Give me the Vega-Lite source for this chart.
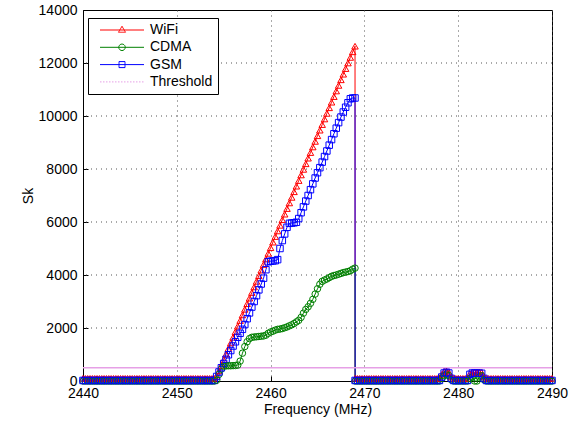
{
"$schema": "https://vega.github.io/schema/vega-lite/v6.json",
"width": 469, "height": 371,
"autosize": {"type": "none"},
"padding": {"left": 83, "top": 10, "right": 28, "bottom": 40},
"background": "white",
"data": {"values": [
{"f":2440,"WiFi":100,"CDMA":0,"GSM":20},{"f":2440.25,"WiFi":100,"CDMA":0,"GSM":20},{"f":2440.5,"WiFi":100,"CDMA":0,"GSM":20},{"f":2440.75,"WiFi":100,"CDMA":0,"GSM":20},
{"f":2441,"WiFi":100,"CDMA":0,"GSM":20},{"f":2441.25,"WiFi":100,"CDMA":0,"GSM":20},{"f":2441.5,"WiFi":100,"CDMA":0,"GSM":20},{"f":2441.75,"WiFi":100,"CDMA":0,"GSM":20},
{"f":2442,"WiFi":100,"CDMA":0,"GSM":20},{"f":2442.25,"WiFi":100,"CDMA":0,"GSM":20},{"f":2442.5,"WiFi":100,"CDMA":0,"GSM":20},{"f":2442.75,"WiFi":100,"CDMA":0,"GSM":20},
{"f":2443,"WiFi":100,"CDMA":0,"GSM":20},{"f":2443.25,"WiFi":100,"CDMA":0,"GSM":20},{"f":2443.5,"WiFi":100,"CDMA":0,"GSM":20},{"f":2443.75,"WiFi":100,"CDMA":0,"GSM":20},
{"f":2444,"WiFi":100,"CDMA":0,"GSM":20},{"f":2444.25,"WiFi":100,"CDMA":0,"GSM":20},{"f":2444.5,"WiFi":100,"CDMA":0,"GSM":20},{"f":2444.75,"WiFi":100,"CDMA":0,"GSM":20},
{"f":2445,"WiFi":100,"CDMA":0,"GSM":20},{"f":2445.25,"WiFi":100,"CDMA":0,"GSM":20},{"f":2445.5,"WiFi":100,"CDMA":0,"GSM":20},{"f":2445.75,"WiFi":100,"CDMA":0,"GSM":20},
{"f":2446,"WiFi":100,"CDMA":0,"GSM":20},{"f":2446.25,"WiFi":100,"CDMA":0,"GSM":20},{"f":2446.5,"WiFi":100,"CDMA":0,"GSM":20},{"f":2446.75,"WiFi":100,"CDMA":0,"GSM":20},
{"f":2447,"WiFi":100,"CDMA":0,"GSM":20},{"f":2447.25,"WiFi":100,"CDMA":0,"GSM":20},{"f":2447.5,"WiFi":100,"CDMA":0,"GSM":20},{"f":2447.75,"WiFi":100,"CDMA":0,"GSM":20},
{"f":2448,"WiFi":100,"CDMA":0,"GSM":20},{"f":2448.25,"WiFi":100,"CDMA":0,"GSM":20},{"f":2448.5,"WiFi":100,"CDMA":0,"GSM":20},{"f":2448.75,"WiFi":100,"CDMA":0,"GSM":20},
{"f":2449,"WiFi":100,"CDMA":0,"GSM":20},{"f":2449.25,"WiFi":100,"CDMA":0,"GSM":20},{"f":2449.5,"WiFi":100,"CDMA":0,"GSM":20},{"f":2449.75,"WiFi":100,"CDMA":0,"GSM":20},
{"f":2450,"WiFi":100,"CDMA":0,"GSM":20},{"f":2450.25,"WiFi":100,"CDMA":0,"GSM":20},{"f":2450.5,"WiFi":100,"CDMA":0,"GSM":20},{"f":2450.75,"WiFi":100,"CDMA":0,"GSM":20},
{"f":2451,"WiFi":100,"CDMA":0,"GSM":20},{"f":2451.25,"WiFi":100,"CDMA":0,"GSM":20},{"f":2451.5,"WiFi":100,"CDMA":0,"GSM":20},{"f":2451.75,"WiFi":100,"CDMA":0,"GSM":20},
{"f":2452,"WiFi":100,"CDMA":0,"GSM":20},{"f":2452.25,"WiFi":100,"CDMA":0,"GSM":20},{"f":2452.5,"WiFi":100,"CDMA":0,"GSM":20},{"f":2452.75,"WiFi":100,"CDMA":0,"GSM":20},
{"f":2453,"WiFi":100,"CDMA":0,"GSM":20},{"f":2453.25,"WiFi":100,"CDMA":0,"GSM":20},{"f":2453.5,"WiFi":100,"CDMA":0,"GSM":20},{"f":2453.75,"WiFi":100,"CDMA":0,"GSM":20},
{"f":2454,"WiFi":100,"CDMA":0,"GSM":20},
{"f":2454.25,"WiFi":169,"CDMA":30,"GSM":170},
{"f":2454.5,"WiFi":380,"CDMA":250,"GSM":340},
{"f":2454.75,"WiFi":591,"CDMA":450,"GSM":500},
{"f":2455,"WiFi":803,"CDMA":560,"GSM":660},
{"f":2455.25,"WiFi":1014,"CDMA":570,"GSM":820},
{"f":2455.5,"WiFi":1225,"CDMA":575,"GSM":990},
{"f":2455.75,"WiFi":1436,"CDMA":575,"GSM":1150},
{"f":2456,"WiFi":1648,"CDMA":580,"GSM":1320},
{"f":2456.25,"WiFi":1859,"CDMA":585,"GSM":1480},
{"f":2456.5,"WiFi":2070,"CDMA":600,"GSM":1650},
{"f":2456.75,"WiFi":2281,"CDMA":750,"GSM":1800},
{"f":2457,"WiFi":2493,"CDMA":1050,"GSM":1950},
{"f":2457.25,"WiFi":2704,"CDMA":1300,"GSM":2130},
{"f":2457.5,"WiFi":2915,"CDMA":1480,"GSM":2350},
{"f":2457.75,"WiFi":3126,"CDMA":1600,"GSM":2570},
{"f":2458,"WiFi":3338,"CDMA":1650,"GSM":2790},
{"f":2458.25,"WiFi":3549,"CDMA":1660,"GSM":3000},
{"f":2458.5,"WiFi":3760,"CDMA":1670,"GSM":3220},
{"f":2458.75,"WiFi":3971,"CDMA":1680,"GSM":3440},
{"f":2459,"WiFi":4183,"CDMA":1690,"GSM":3660},
{"f":2459.25,"WiFi":4394,"CDMA":1700,"GSM":3880},
{"f":2459.5,"WiFi":4605,"CDMA":1730,"GSM":4200},
{"f":2459.75,"WiFi":4816,"CDMA":1800,"GSM":4500},
{"f":2460,"WiFi":5028,"CDMA":1850,"GSM":4520},
{"f":2460.25,"WiFi":5239,"CDMA":1880,"GSM":4530},
{"f":2460.5,"WiFi":5450,"CDMA":1920,"GSM":4540},
{"f":2460.75,"WiFi":5661,"CDMA":1950,"GSM":4580},
{"f":2461,"WiFi":5873,"CDMA":1960,"GSM":5000},
{"f":2461.25,"WiFi":6084,"CDMA":1980,"GSM":5300},
{"f":2461.5,"WiFi":6295,"CDMA":2010,"GSM":5550},
{"f":2461.75,"WiFi":6506,"CDMA":2040,"GSM":5800},
{"f":2462,"WiFi":6718,"CDMA":2080,"GSM":5950},
{"f":2462.25,"WiFi":6929,"CDMA":2120,"GSM":5960},
{"f":2462.5,"WiFi":7140,"CDMA":2170,"GSM":5970},
{"f":2462.75,"WiFi":7351,"CDMA":2230,"GSM":5990},
{"f":2463,"WiFi":7563,"CDMA":2290,"GSM":6130},
{"f":2463.25,"WiFi":7774,"CDMA":2400,"GSM":6350},
{"f":2463.5,"WiFi":7985,"CDMA":2560,"GSM":6570},
{"f":2463.75,"WiFi":8196,"CDMA":2700,"GSM":6790},
{"f":2464,"WiFi":8408,"CDMA":2800,"GSM":7000},
{"f":2464.25,"WiFi":8619,"CDMA":2930,"GSM":7220},
{"f":2464.5,"WiFi":8830,"CDMA":3080,"GSM":7440},
{"f":2464.75,"WiFi":9041,"CDMA":3280,"GSM":7660},
{"f":2465,"WiFi":9253,"CDMA":3480,"GSM":7860},
{"f":2465.25,"WiFi":9464,"CDMA":3650,"GSM":8050},
{"f":2465.5,"WiFi":9675,"CDMA":3760,"GSM":8260},
{"f":2465.75,"WiFi":9886,"CDMA":3810,"GSM":8470},
{"f":2466,"WiFi":10098,"CDMA":3850,"GSM":8680},
{"f":2466.25,"WiFi":10309,"CDMA":3900,"GSM":8900},
{"f":2466.5,"WiFi":10520,"CDMA":3950,"GSM":9110},
{"f":2466.75,"WiFi":10731,"CDMA":3980,"GSM":9330},
{"f":2467,"WiFi":10943,"CDMA":4000,"GSM":9540},
{"f":2467.25,"WiFi":11154,"CDMA":4030,"GSM":9750},
{"f":2467.5,"WiFi":11365,"CDMA":4060,"GSM":9960},
{"f":2467.75,"WiFi":11576,"CDMA":4090,"GSM":10150},
{"f":2468,"WiFi":11788,"CDMA":4110,"GSM":10330},
{"f":2468.25,"WiFi":11999,"CDMA":4130,"GSM":10500},
{"f":2468.5,"WiFi":12210,"CDMA":4160,"GSM":10650},
{"f":2468.75,"WiFi":12421,"CDMA":4220,"GSM":10680},
{"f":2469,"WiFi":12633,"CDMA":4260,"GSM":10680},
{"f":2469.01,"WiFi":100,"CDMA":0,"GSM":20},
{"f":2469.25,"WiFi":100,"CDMA":0,"GSM":20},{"f":2469.5,"WiFi":100,"CDMA":0,"GSM":20},{"f":2469.75,"WiFi":100,"CDMA":0,"GSM":20},
{"f":2470,"WiFi":100,"CDMA":0,"GSM":20},{"f":2470.25,"WiFi":100,"CDMA":0,"GSM":20},{"f":2470.5,"WiFi":100,"CDMA":0,"GSM":20},{"f":2470.75,"WiFi":100,"CDMA":0,"GSM":20},
{"f":2471,"WiFi":100,"CDMA":0,"GSM":20},{"f":2471.25,"WiFi":100,"CDMA":0,"GSM":20},{"f":2471.5,"WiFi":100,"CDMA":0,"GSM":20},{"f":2471.75,"WiFi":100,"CDMA":0,"GSM":20},
{"f":2472,"WiFi":100,"CDMA":0,"GSM":20},{"f":2472.25,"WiFi":100,"CDMA":0,"GSM":20},{"f":2472.5,"WiFi":100,"CDMA":0,"GSM":20},{"f":2472.75,"WiFi":100,"CDMA":0,"GSM":20},
{"f":2473,"WiFi":100,"CDMA":0,"GSM":20},{"f":2473.25,"WiFi":100,"CDMA":0,"GSM":20},{"f":2473.5,"WiFi":100,"CDMA":0,"GSM":20},{"f":2473.75,"WiFi":100,"CDMA":0,"GSM":20},
{"f":2474,"WiFi":100,"CDMA":0,"GSM":20},{"f":2474.25,"WiFi":100,"CDMA":0,"GSM":20},{"f":2474.5,"WiFi":100,"CDMA":0,"GSM":20},{"f":2474.75,"WiFi":100,"CDMA":0,"GSM":20},
{"f":2475,"WiFi":100,"CDMA":0,"GSM":20},{"f":2475.25,"WiFi":100,"CDMA":0,"GSM":20},{"f":2475.5,"WiFi":100,"CDMA":0,"GSM":20},{"f":2475.75,"WiFi":100,"CDMA":0,"GSM":20},
{"f":2476,"WiFi":100,"CDMA":0,"GSM":20},{"f":2476.25,"WiFi":100,"CDMA":0,"GSM":20},{"f":2476.5,"WiFi":100,"CDMA":0,"GSM":20},{"f":2476.75,"WiFi":100,"CDMA":0,"GSM":20},
{"f":2477,"WiFi":100,"CDMA":0,"GSM":20},{"f":2477.25,"WiFi":100,"CDMA":0,"GSM":20},{"f":2477.5,"WiFi":100,"CDMA":0,"GSM":20},{"f":2477.75,"WiFi":100,"CDMA":0,"GSM":20},
{"f":2478,"WiFi":100,"CDMA":0,"GSM":20},{"f":2478.25,"WiFi":250,"CDMA":100,"GSM":150},{"f":2478.5,"WiFi":360,"CDMA":200,"GSM":300},{"f":2478.75,"WiFi":380,"CDMA":250,"GSM":330},
{"f":2479,"WiFi":330,"CDMA":200,"GSM":300},{"f":2479.25,"WiFi":150,"CDMA":50,"GSM":100},{"f":2479.5,"WiFi":100,"CDMA":0,"GSM":20},{"f":2479.75,"WiFi":100,"CDMA":0,"GSM":20},
{"f":2480,"WiFi":100,"CDMA":0,"GSM":20},{"f":2480.25,"WiFi":100,"CDMA":0,"GSM":20},{"f":2480.5,"WiFi":100,"CDMA":0,"GSM":20},{"f":2480.75,"WiFi":100,"CDMA":0,"GSM":20},
{"f":2481,"WiFi":100,"CDMA":0,"GSM":20},{"f":2481.25,"WiFi":280,"CDMA":100,"GSM":250},{"f":2481.5,"WiFi":330,"CDMA":150,"GSM":300},{"f":2481.75,"WiFi":330,"CDMA":0,"GSM":300},
{"f":2482,"WiFi":330,"CDMA":0,"GSM":300},{"f":2482.25,"WiFi":330,"CDMA":150,"GSM":300},{"f":2482.5,"WiFi":320,"CDMA":200,"GSM":290},{"f":2482.75,"WiFi":150,"CDMA":50,"GSM":100},
{"f":2483,"WiFi":100,"CDMA":0,"GSM":20},{"f":2483.25,"WiFi":100,"CDMA":0,"GSM":20},{"f":2483.5,"WiFi":100,"CDMA":0,"GSM":20},{"f":2483.75,"WiFi":100,"CDMA":0,"GSM":20},
{"f":2484,"WiFi":100,"CDMA":0,"GSM":20},{"f":2484.25,"WiFi":100,"CDMA":0,"GSM":20},{"f":2484.5,"WiFi":100,"CDMA":0,"GSM":20},{"f":2484.75,"WiFi":100,"CDMA":0,"GSM":20},
{"f":2485,"WiFi":100,"CDMA":0,"GSM":20},{"f":2485.25,"WiFi":100,"CDMA":0,"GSM":20},{"f":2485.5,"WiFi":100,"CDMA":0,"GSM":20},{"f":2485.75,"WiFi":100,"CDMA":0,"GSM":20},
{"f":2486,"WiFi":100,"CDMA":0,"GSM":20},{"f":2486.25,"WiFi":100,"CDMA":0,"GSM":20},{"f":2486.5,"WiFi":100,"CDMA":0,"GSM":20},{"f":2486.75,"WiFi":100,"CDMA":0,"GSM":20},
{"f":2487,"WiFi":100,"CDMA":0,"GSM":20},{"f":2487.25,"WiFi":100,"CDMA":0,"GSM":20},{"f":2487.5,"WiFi":100,"CDMA":0,"GSM":20},{"f":2487.75,"WiFi":100,"CDMA":0,"GSM":20},
{"f":2488,"WiFi":100,"CDMA":0,"GSM":20},{"f":2488.25,"WiFi":100,"CDMA":0,"GSM":20},{"f":2488.5,"WiFi":100,"CDMA":0,"GSM":20},{"f":2488.75,"WiFi":100,"CDMA":0,"GSM":20},
{"f":2489,"WiFi":100,"CDMA":0,"GSM":20},{"f":2489.25,"WiFi":100,"CDMA":0,"GSM":20},{"f":2489.5,"WiFi":100,"CDMA":0,"GSM":20},{"f":2489.75,"WiFi":100,"CDMA":0,"GSM":20},
{"f":2490,"WiFi":100,"CDMA":0,"GSM":20}
]},
"layer": [
  {
    "data": {"values": [{"g": 2000}, {"g": 4000}, {"g": 6000}, {"g": 8000}, {"g": 10000}, {"g": 12000}]},
    "mark": {"type": "rule", "color": "#555555", "strokeWidth": 1, "strokeDash": [1, 4]},
    "encoding": {
      "y": {"field": "g", "type": "quantitative",
            "scale": {"domain": [0, 14000], "nice": false},
            "axis": {"title": "Sk", "grid": false, "values": [0, 2000, 4000, 6000, 8000, 10000, 12000, 14000], "tickSize": -5, "labelPadding": 11, "titlePadding": 3, "format": "d"}}
    }
  },
  {
    "transform": [{"fold": ["WiFi", "CDMA", "GSM"], "as": ["series", "Sk"]}],
    "mark": {"type": "line", "strokeWidth": 1, "clip": false},
    "encoding": {
      "x": {"field": "f", "type": "quantitative",
            "scale": {"domain": [2440, 2490], "nice": false, "zero": false},
            "axis": {"title": "Frequency (MHz)", "grid": true, "values": [2440, 2450, 2460, 2470, 2480, 2490], "tickSize": -5, "labelPadding": 10, "titlePadding": 2, "format": "d"}},
      "y": {"field": "Sk", "type": "quantitative",
            "scale": {"domain": [0, 14000], "nice": false},
            "axis": {"title": "Sk", "grid": false, "values": [0, 2000, 4000, 6000, 8000, 10000, 12000, 14000], "tickSize": -5, "labelPadding": 11, "titlePadding": 3, "format": "d"}},
      "color": {"field": "series", "type": "nominal",
                "scale": {"domain": ["WiFi", "CDMA", "GSM", "Threshold"], "range": ["#ff0000", "#008000", "#0000ff", "#e6a0e6"]},
                "legend": {
                  "title": null, "orient": "none", "legendX": 5, "legendY": 8,
                  "strokeColor": "black", "fillColor": "white", "padding": 5, "cornerRadius": 0,
                  "labelFont": "Liberation Sans", "labelFontSize": 14, "labelColor": "black",
                  "symbolSize": 100, "labelOffset": 43, "rowPadding": 3.3, "symbolStrokeWidth": 1,
                  "symbolType": "M0,0H8.8",
                  "encode": {"symbols": {"update": {
                    "shape": {"signal": "datum.value === 'WiFi' ? 'M0,0H8.8M4.4,-0.75L5.1,0.45H3.7Z' : datum.value === 'CDMA' ? 'M0,0H8.8M5.05,0A0.65,0.65 0 1 1 3.75,0A0.65,0.65 0 1 1 5.05,0' : datum.value === 'GSM' ? 'M0,0H8.8M3.8,-0.6H5V0.6H3.8Z' : 'M0,0H8.8'"},
                    "strokeDash": {"signal": "datum.value === 'Threshold' ? [1.5, 1.5] : [1, 0]"},
                    "fill": {"value": "transparent"}
                  }}}
                }},
      "detail": {"field": "series"}
    }
  },
  {
    "data": {"values": [{"series": "Threshold", "Sk": 500}]},
    "mark": {"type": "rule", "strokeWidth": 1.5},
    "encoding": {
      "y": {"field": "Sk", "type": "quantitative"},
      "color": {"field": "series", "type": "nominal"}
    }
  },
  {
    "transform": [{"fold": ["WiFi", "CDMA", "GSM"], "as": ["series", "Sk"]}],
    "mark": {"type": "point", "filled": false, "size": 42, "strokeWidth": 1, "opacity": 1, "clip": false},
    "encoding": {
      "x": {"field": "f", "type": "quantitative"},
      "y": {"field": "Sk", "type": "quantitative"},
      "color": {"field": "series", "type": "nominal"},
      "shape": {"field": "series", "type": "nominal",
                "scale": {"domain": ["WiFi", "CDMA", "GSM"], "range": ["triangle-up", "circle", "square"]},
                "legend": null}
    }
  }
],
"config": {
  "view": {"stroke": "black", "strokeWidth": 1},
  "axis": {
    "labelFont": "Liberation Sans", "labelFontSize": 14, "labelColor": "black", "labelFlush": false,
    "titleFont": "Liberation Sans", "titleFontSize": 14, "titleFontWeight": "normal", "titleColor": "black",
    "domainColor": "black", "tickColor": "black", "tickWidth": 1,
    "gridColor": "#555555", "gridDash": [1, 4], "gridOpacity": 1, "gridWidth": 1
  }
}
}
